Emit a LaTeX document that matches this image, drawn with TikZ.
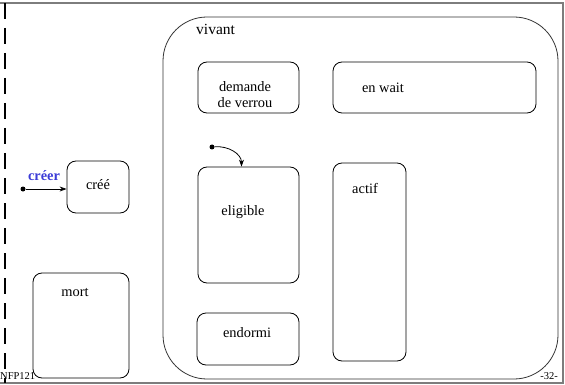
\documentclass[tikz,border=0pt]{standalone}
\usepackage{fontspec}
\setmainfont{Liberation Serif}
\usetikzlibrary{arrows.meta,positioning}
\definecolor{bleu}{RGB}{60,60,215}
\definecolor{grisc}{RGB}{125,125,125}
\tikzset{
  etat/.style={draw, rounded corners=9pt, line width=0.8pt, inner sep=0pt},
  txt/.style={align=center, inner sep=0pt, font=\fontsize{14.4}{16}\selectfont},
  pied/.style={inner sep=0pt, font=\fontsize{10.5}{11}\selectfont},
  init/.style={circle, fill, inner sep=0pt, minimum size=5pt},
  tr/.style={-{Stealth[length=7pt,width=5pt]}, line width=0.8pt},
  cadre/.style={grisc, line width=1.4pt},
}
\begin{document}
\begin{tikzpicture}[x=1pt, y=-1pt]
  \useasboundingbox (0,0) rectangle (565,385);
  % cadre de la page
  \draw[cadre] (0,3) -- (563,3) -- (563,383) -- (0,383);
  \draw[line width=2.2pt, dash pattern=on 16pt off 9pt] (5,3) -- (5,383);
  % etats
  \node[etat, draw=black!80, rounded corners=44pt, minimum width=395, minimum height=362] (vivant) at (360.5,198) {};
  \node[etat, minimum width=101, minimum height=51] (demande) at (248.5,87.5) {};
  \node[etat, minimum width=203, minimum height=51] (enwait) at (434.5,87.5) {};
  \node[etat, minimum width=62, minimum height=52] (cree) at (98,187) {};
  \node[etat, minimum width=101, minimum height=116] (eligible) at (248.5,225) {};
  \node[etat, minimum width=73, minimum height=198] (actif) at (369.5,262) {};
  \node[etat, minimum width=96, minimum height=105] (mort) at (81,325.5) {};
  \node[etat, minimum width=102, minimum height=52] (endormi) at (248,339) {};
  % textes
  \node[txt, anchor=west, font=\fontsize{15.5}{17}\selectfont] (tvivant) at (196,29) {vivant};
  \node[txt] (tdemande) at (245,95) {demande\\de verrou};
  \node[txt] (tenwait) at (383,88) {en wait};
  \node[txt] (tcree) at (98,185) {créé};
  \node[txt, text=bleu, font=\fontsize{14.4}{16}\selectfont\bfseries] (tcreer) at (44,176) {créer};
  \node[txt] (teligible) at (243,212) {eligible};
  \node[txt] (tactif) at (365,189) {actif};
  \node[txt] (tmort) at (75,293) {mort};
  \node[txt] (tendormi) at (247,333) {endormi};
  \node[pied, anchor=west] (nfp) at (0,376) {NFP121};
  \node[pied] (page) at (549,376) {-32-};
  % transitions initiales
  \node[init] (d1) at (23,189) {};
  \node[init] (d2) at (212,147) {};
  \draw[tr] (d1) -- (cree.west |- d1);
  \draw[tr] (d2) to[out=5, in=90] ([xshift=-7pt]eligible.north);
\end{tikzpicture}
\end{document}
